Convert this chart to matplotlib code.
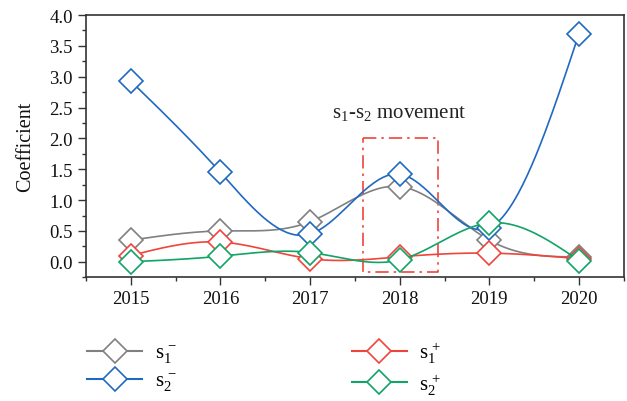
import numpy as np
import matplotlib.pyplot as plt
from matplotlib.ticker import MultipleLocator

plt.rcParams['font.family'] = ['Liberation Serif', 'DejaVu Serif']
plt.rcParams['mathtext.fontset'] = 'custom'
plt.rcParams['mathtext.rm'] = 'Liberation Serif'
plt.rcParams['mathtext.it'] = 'Liberation Serif:italic'

years = [2015, 2016, 2017, 2018, 2019, 2020]
s1_minus = [0.35, 0.50, 0.65, 1.22, 0.35, 0.08]
s2_minus = [2.93, 1.45, 0.45, 1.42, 0.55, 3.70]
s1_plus = [0.10, 0.32, 0.05, 0.08, 0.14, 0.05]
s2_plus = [0.00, 0.09, 0.15, 0.03, 0.63, 0.02]

labels = [r'$\mathregular{s_1^{\,-}}$', r'$\mathregular{s_2^{\,-}}$',
          r'$\mathregular{s_1^{\,+}}$', r'$\mathregular{s_2^{\,+}}$']
colors = ['#808080', '#2069c0', '#f0443c', '#10a466']


def spline(x, y, n=200):
    # natural cubic spline, only used to draw the smooth connecting line
    x = np.asarray(x, float)
    y = np.asarray(y, float)
    k = len(x)
    h = np.diff(x)
    A = np.zeros((k, k))
    b = np.zeros(k)
    A[0, 0] = A[-1, -1] = 1
    for i in range(1, k - 1):
        A[i, i - 1] = h[i - 1]
        A[i, i] = 2 * (h[i - 1] + h[i])
        A[i, i + 1] = h[i]
        b[i] = 6 * ((y[i + 1] - y[i]) / h[i] - (y[i] - y[i - 1]) / h[i - 1])
    m = np.linalg.solve(A, b)
    xs = np.linspace(x[0], x[-1], n)
    idx = np.clip(np.searchsorted(x, xs) - 1, 0, k - 2)
    t0 = xs - x[idx]
    t1 = x[idx + 1] - xs
    hh = h[idx]
    ys = (m[idx] * t1**3 / (6 * hh) + m[idx + 1] * t0**3 / (6 * hh)
          + (y[idx] / hh - m[idx] * hh / 6) * t1
          + (y[idx + 1] / hh - m[idx + 1] * hh / 6) * t0)
    return xs, ys


fig = plt.figure(figsize=(6.27, 4.02), dpi=100)
ax = fig.add_axes([0.137, 0.308, 0.858, 0.652])

series = [s1_minus, s2_minus, s1_plus, s2_plus]
handles = []
for i, (vals, lab, c) in enumerate(zip(series, labels, colors)):
    xs, ys = spline(years, vals)
    ax.plot(xs, ys, color=c, lw=1.2, zorder=2 + i)
    ax.plot(years, vals, ls='none', marker='D', ms=12, mfc='white',
            mec=c, mew=1.2, zorder=2 + i)
    h, = ax.plot([], [], color=c, lw=1.5, marker='D', ms=12, mfc='white',
                 mec=c, mew=1.2, label=lab)
    handles.append(h)

# movement box
ax.plot([2017.59, 2018.43, 2018.43, 2017.59, 2017.59],
        [2.0, 2.0, -0.16, -0.16, 2.0], color='#f0443c', lw=1.2,
        ls=(0, (8, 3, 1.5, 3)), zorder=1)
ax.text(2018.0, 2.27, r'$\mathregular{s_1}$-$\mathregular{s_2}$ movement',
        ha='center', va='bottom', fontsize=15, color='#222222')

ax.set_xlim(2014.5, 2020.5)
ax.set_ylim(-0.25, 4.0)
ax.set_xticks(years)
ax.xaxis.set_minor_locator(MultipleLocator(0.5))
ax.yaxis.set_major_locator(MultipleLocator(0.5))
ax.yaxis.set_minor_locator(MultipleLocator(0.25))
ax.yaxis.set_major_formatter(plt.FormatStrFormatter('%.1f'))
ax.tick_params(which='major', direction='out', length=6, width=1,
               labelsize=13.5, colors='#333333', labelcolor='#111111')
ax.tick_params(which='minor', direction='out', length=3, width=1,
               colors='#333333')
for sp in ax.spines.values():
    sp.set_color('#333333')
    sp.set_linewidth(1.2)
ax.set_ylabel('Coefficient', fontsize=14.5, color='#111111', labelpad=10)

fig.legend(handles=handles, labels=labels, ncol=2,
           loc='upper left', bbox_to_anchor=(0.109, 0.20), frameon=False,
           fontsize=15, handlelength=2.65, columnspacing=8.4,
           labelspacing=0.3, handletextpad=0.6)

fig.savefig('out.png', dpi=100)
